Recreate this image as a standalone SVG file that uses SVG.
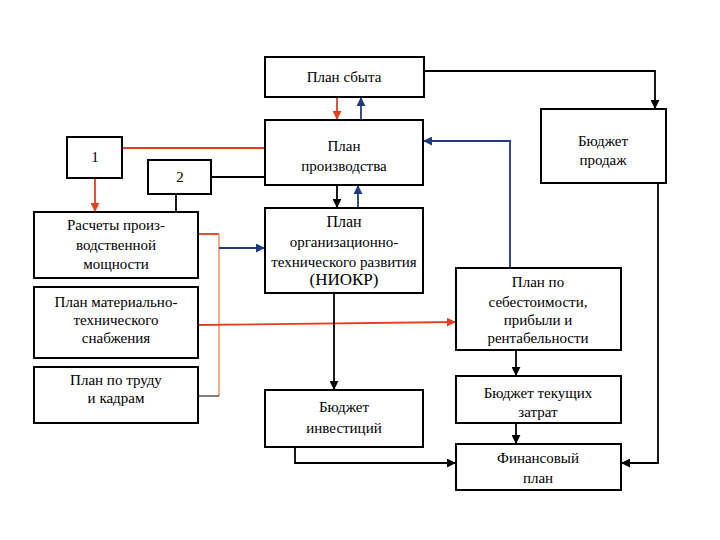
<svg xmlns="http://www.w3.org/2000/svg" width="720" height="540" viewBox="0 0 720 540">
<style>
.box{fill:#fff;stroke:#000;stroke-width:2}
text{font-family:'Liberation Serif','Times New Roman',serif;font-size:15px;fill:#000;text-anchor:middle}
.k{fill:none;stroke:#000;stroke-width:1.8}
.r{fill:none;stroke:#e2401f;stroke-width:1.8}
.o{fill:none;stroke:#f0915f;stroke-width:1.5}
.b{fill:none;stroke:#1f3a80;stroke-width:1.8}
</style>
<defs>
<marker id="ak" viewBox="0 0 10 10" refX="9" refY="5" markerWidth="5" markerHeight="5" orient="auto" markerUnits="strokeWidth"><path d="M0,0L10,5L0,10z" fill="#000"/></marker>
<marker id="ar" viewBox="0 0 10 10" refX="9" refY="5" markerWidth="5" markerHeight="5" orient="auto" markerUnits="strokeWidth"><path d="M0,0L10,5L0,10z" fill="#e2401f"/></marker>
<marker id="ab" viewBox="0 0 10 10" refX="9" refY="5" markerWidth="5" markerHeight="5" orient="auto" markerUnits="strokeWidth"><path d="M0,0L10,5L0,10z" fill="#1f3a80"/></marker>
</defs>
<rect width="720" height="540" fill="#fff"/>
<g id="connectors">
<path class="k" d="M424,71H655V108" marker-end="url(#ak)"/>
<path class="r" d="M337,97V119" marker-end="url(#ar)"/>
<path class="b" d="M361,120V98" marker-end="url(#ab)"/>
<path class="r" d="M122,148H265"/>
<path class="r" d="M95,178V211" marker-end="url(#ar)"/>
<path class="k" d="M211,177H265"/>
<path class="k" d="M176,194V212"/>
<path class="k" d="M337,185V207" marker-end="url(#ak)"/>
<path class="b" d="M358,208V186" marker-end="url(#ab)"/>
<path class="b" d="M510,268V141H424" marker-end="url(#ab)"/>
<path class="r" d="M198,234H219"/>
<path class="o" d="M219,234V396"/>
<path class="k" d="M219,396H198" style="stroke-width:1"/>
<path class="b" d="M219,248H264" marker-end="url(#ab)"/>
<path class="r" d="M198,325L455,322" marker-end="url(#ar)"/>
<path class="k" d="M334,293V389" marker-end="url(#ak)"/>
<path class="k" d="M295,447V463H455" marker-end="url(#ak)"/>
<path class="k" d="M516,350V375" marker-end="url(#ak)"/>
<path class="k" d="M516,423V443" marker-end="url(#ak)"/>
<path class="k" d="M658,183V463H622" marker-end="url(#ak)"/>
</g>
<g id="plan-sbyta"><rect class="box" x="265" y="57" width="159" height="40"/><text x="344" y="82">План сбыта</text></g>
<g id="plan-proizvodstva"><rect class="box" x="265" y="120" width="158" height="65"/><text x="344" y="151">План</text><text x="344" y="171">производства</text></g>
<g id="box-1"><rect class="box" x="67" y="137" width="55" height="41"/><text x="95" y="162">1</text></g>
<g id="box-2"><rect class="box" x="148" y="160" width="63" height="34"/><text x="180" y="182">2</text></g>
<g id="raschety"><rect class="box" x="34" y="212" width="164" height="66"/><text x="116" y="230">Расчеты  произ-</text><text x="116" y="250">водственной</text><text x="116" y="269">мощности</text></g>
<g id="plan-mto"><rect class="box" x="34" y="287" width="164" height="71"/><text x="116" y="307">План  материально-</text><text x="116" y="325">технического</text><text x="116" y="343">снабжения</text></g>
<g id="plan-trud"><rect class="box" x="34" y="367" width="164" height="56"/><text x="116" y="385">План  по  труду</text><text x="116" y="403">и кадрам</text></g>
<g id="niokr"><rect class="box" x="265" y="208" width="158" height="85"/><text x="344" y="227" style="font-size:16px">План</text><text x="344" y="247">организационно-</text><text x="344" y="267">технического развития</text><text x="344" y="285" style="font-size:17px">(НИОКР)</text></g>
<g id="budget-invest"><rect class="box" x="265" y="390" width="158" height="57"/><text x="344" y="412">Бюджет</text><text x="344" y="433">инвестиций</text></g>
<g id="budget-prodazh"><rect class="box" x="541" y="109" width="125" height="74"/><text x="603" y="146">Бюджет</text><text x="603" y="165">продаж</text></g>
<g id="plan-sebest"><rect class="box" x="456" y="268" width="165" height="82"/><text x="538" y="287">План по</text><text x="538" y="307">себестоимости,</text><text x="538" y="325">прибыли и</text><text x="538" y="343">рентабельности</text></g>
<g id="budget-tek"><rect class="box" x="456" y="376" width="165" height="47"/><text x="538" y="398">Бюджет текущих</text><text x="538" y="417">затрат</text></g>
<g id="fin-plan"><rect class="box" x="456" y="444" width="165" height="46"/><text x="538" y="463">Финансовый</text><text x="538" y="483">план</text></g>
</svg>
